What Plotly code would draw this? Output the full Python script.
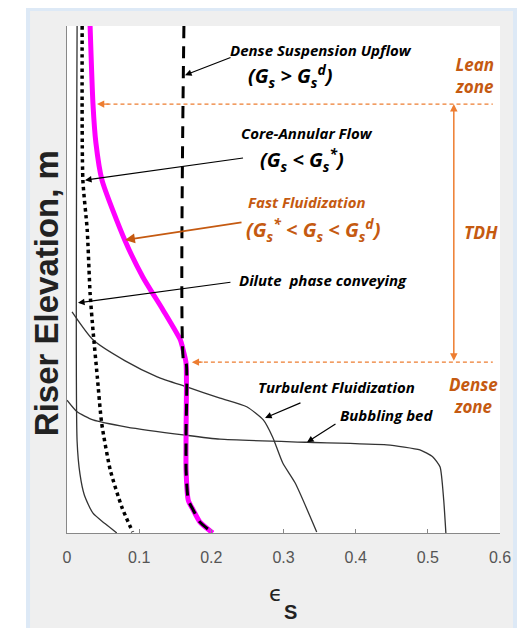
import plotly.graph_objects as go

# ---- data (solids fraction eps_s vs. riser elevation, arbitrary height units 0-10) ----
fast_eps = [0.032, 0.036, 0.040, 0.0485, 0.080, 0.105, 0.133, 0.157, 0.161, 0.165, 0.165, 0.165, 0.168, 0.175, 0.184, 0.202]
fast_h   = [10.0, 8.46, 7.70, 6.96, 5.78, 5.05, 4.40, 3.81, 3.61, 3.35, 2.00, 1.24, 0.65, 0.45, 0.22, 0.0]

dsu_eps = [0.162, 0.162, 0.165, 0.165, 0.165, 0.168, 0.175, 0.184, 0.202]
dsu_h   = [10.0, 3.35, 3.35, 2.00, 1.24, 0.65, 0.45, 0.22, 0.0]

core_eps = [0.021, 0.022, 0.028, 0.032, 0.036, 0.042, 0.048, 0.060, 0.076, 0.091]
core_h   = [10.0, 6.96, 5.98, 4.73, 4.00, 3.08, 2.17, 1.24, 0.51, 0.02]

dilute_eps = [0.014, 0.014, 0.018, 0.024, 0.036, 0.053, 0.069]
dilute_h   = [10.0, 1.81, 1.16, 0.75, 0.39, 0.18, 0.0]

turb_eps = [0.007, 0.036, 0.080, 0.125, 0.166, 0.212, 0.249, 0.272, 0.285, 0.299, 0.316, 0.346]
turb_h   = [4.36, 3.81, 3.40, 3.08, 2.88, 2.66, 2.49, 2.23, 1.89, 1.38, 0.99, 0.02]

bub_eps = [0.0, 0.014, 0.036, 0.083, 0.164, 0.212, 0.333, 0.443, 0.489, 0.507, 0.517, 0.522, 0.525]
bub_h   = [2.62, 2.39, 2.23, 2.09, 1.93, 1.85, 1.79, 1.74, 1.64, 1.50, 1.30, 0.65, 0.0]

lean_h = 8.46      # top of TDH
dense_h = 3.37     # top of dense zone
zone_eps = [0.045, 0.590]
x_ticks = [0, 0.1, 0.2, 0.3, 0.4, 0.5, 0.6]
x_tick_labels = ["0", "0.1", "0.2", "0.3", "0.4", "0.5", "0.6"]

ORANGE_T = "#C55A11"
ORANGE_L = "#ED7D31"
FONT = "Open Sans"
SMALL = 15
BIG = 20

fig = go.Figure()

def line(x, y, **kw):
    fig.add_trace(go.Scatter(x=x, y=y, mode="lines", showlegend=False, hoverinfo="skip", **kw))

line([zone_eps[0], zone_eps[1]], [lean_h, lean_h], line=dict(color=ORANGE_L, width=1.2, dash="4px,3px"))
line([0.18, zone_eps[1]], [dense_h, dense_h], line=dict(color=ORANGE_L, width=1.2, dash="4px,3px"))
line(dilute_eps, dilute_h, line=dict(color="#333333", width=1.3, shape="spline", smoothing=0.6))
line(turb_eps, turb_h, line=dict(color="#333333", width=1.3, shape="spline", smoothing=0.6))
line(bub_eps, bub_h, line=dict(color="#333333", width=1.3, shape="spline", smoothing=0.5))
line(core_eps, core_h, line=dict(color="black", width=3.5, dash="dot", shape="spline", smoothing=0.6))
line(fast_eps, fast_h, line=dict(color="#FF00FF", width=5, shape="spline", smoothing=0.6))
line(dsu_eps, dsu_h, line=dict(color="black", width=3, dash="12px,8px", shape="spline", smoothing=0.5))

# panel background
fig.add_shape(type="rect", xref="paper", yref="paper", x0=-0.090, x1=1.0346, y0=-0.25, y1=1.0335,
              fillcolor="#EFEFEF", line=dict(color="#DDE9F6", width=4), layer="below")
fig.add_shape(type="rect", xref="paper", yref="paper", x0=0, x1=1, y0=0, y1=1,
              fillcolor="white", line=dict(width=0), layer="below")

def arrow(tip, tail, color="black", head=2, width=1.2, size=1.1, **kw):
    fig.add_annotation(x=tip[0], y=tip[1], ax=tail[0], ay=tail[1], xref="x", yref="y",
                       axref="x", ayref="y", text="", showarrow=True, arrowhead=head,
                       arrowcolor=color, arrowwidth=width, arrowsize=size, **kw)

def text(x, y, t, size=SMALL, color="black", xanchor="left", **kw):
    fig.add_annotation(x=x, y=y, xref="x", yref="y", text=t, showarrow=False, xanchor=xanchor,
                       yanchor="middle", borderpad=0,
                       font=dict(family=FONT, size=size, color=color), **kw)

# arrows
arrow((0.1635, 9.03), (0.2287, 9.39))
arrow((0.0249, 6.96), (0.2460, 7.40))
arrow((0.0804, 5.78), (0.2439, 6.13), color=ORANGE_T, width=1.8)
arrow((0.0152, 4.54), (0.2286, 4.95))
arrow((0.2744, 2.27), (0.3256, 2.58))
arrow((0.3326, 1.79), (0.3741, 2.17))
arrow((0.0416, lean_h), (0.060, lean_h), color=ORANGE_L, head=2, width=1.2, size=1.2)
arrow((0.173, dense_h), (0.19, dense_h), color=ORANGE_L, head=2, width=1.2, size=1.2)
arrow((0.536, lean_h), (0.536, dense_h), color=ORANGE_L, head=2, width=1.5, size=1.0,
      arrowside="end+start", startarrowhead=2, startarrowsize=1.0)

# texts
text(0.2245, 9.53, "<b><i>Dense Suspension Upflow</i></b>")
text(0.2500, 9.01, "<b><i>(G<sub>s</sub> > G<sub>s</sub><sup>d</sup>)</i></b>", size=BIG)
text(0.2400, 7.88, "<b><i>Core-Annular Flow</i></b>")
text(0.2660, 7.36, "<b><i>(G<sub>s</sub> < G<sub>s</sub><sup>*</sup>)</i></b>", size=BIG)
text(0.2500, 6.52, "<b><i>Fast Fluidization</i></b>", color=ORANGE_T)
text(0.2470, 5.97, "<b><i>(G<sub>s</sub><sup>*</sup> < G<sub>s</sub> < G<sub>s</sub><sup>d</sup>)</i></b>", size=BIG, color=ORANGE_T)
text(0.2370, 4.99, "<b><i>Dilute  phase conveying</i></b>")
text(0.374, 2.88, "<b><i>Turbulent Fluidization</i></b>", xanchor="center")
text(0.4434, 2.33, "<b><i>Bubbling bed</i></b>", xanchor="center")
text(0.564, 9.03, "<b><i>Lean<br>zone</i></b>", size=17, color=ORANGE_T, xanchor="center")
text(0.574, 5.94, "<b><i>TDH</i></b>", size=17.5, color=ORANGE_T, xanchor="center")
text(0.5626, 2.72, "<b><i>Dense<br>zone</i></b>", size=17, color=ORANGE_T, xanchor="center")

# axis titles
fig.add_annotation(xref="paper", yref="paper", x=-0.0485, y=0.473, text="<b>Riser Elevation, m</b>",
                   textangle=-90, showarrow=False, xanchor="center", yanchor="middle",
                   font=dict(family="Liberation Sans", size=33, color="#222222"))
fig.add_annotation(xref="paper", yref="paper", x=0.4827, y=-0.1200, text="\u03f5", showarrow=False,
                   xanchor="center", yanchor="middle",
                   font=dict(family="DejaVu Sans", size=22, color="#222222"))
fig.add_annotation(xref="paper", yref="paper", x=0.5173, y=-0.1558, text="<b>S</b>", showarrow=False,
                   xanchor="center", yanchor="middle",
                   font=dict(family="Liberation Sans", size=20, color="#222222"))

# page body has an 8px margin, so the figure is offset by 8px; margins compensate
fig.update_layout(
    width=528, height=628,
    margin=dict(l=59, r=36, t=18, b=103),
    paper_bgcolor="white", plot_bgcolor="white",
    xaxis=dict(range=[0, 0.6], tickvals=x_ticks, ticktext=x_tick_labels, showgrid=False, zeroline=False,
               showline=True, linecolor="#888888", linewidth=1, ticks="inside", ticklen=4,
               tickcolor="#888888", ticklabelstandoff=10,
               tickfont=dict(family="Liberation Sans", size=16, color="#555555")),
    yaxis=dict(range=[0, 10], showgrid=False, zeroline=False, showticklabels=False,
               showline=True, linecolor="#888888", linewidth=1, ticks=""),
)

fig.write_html("out.html")
